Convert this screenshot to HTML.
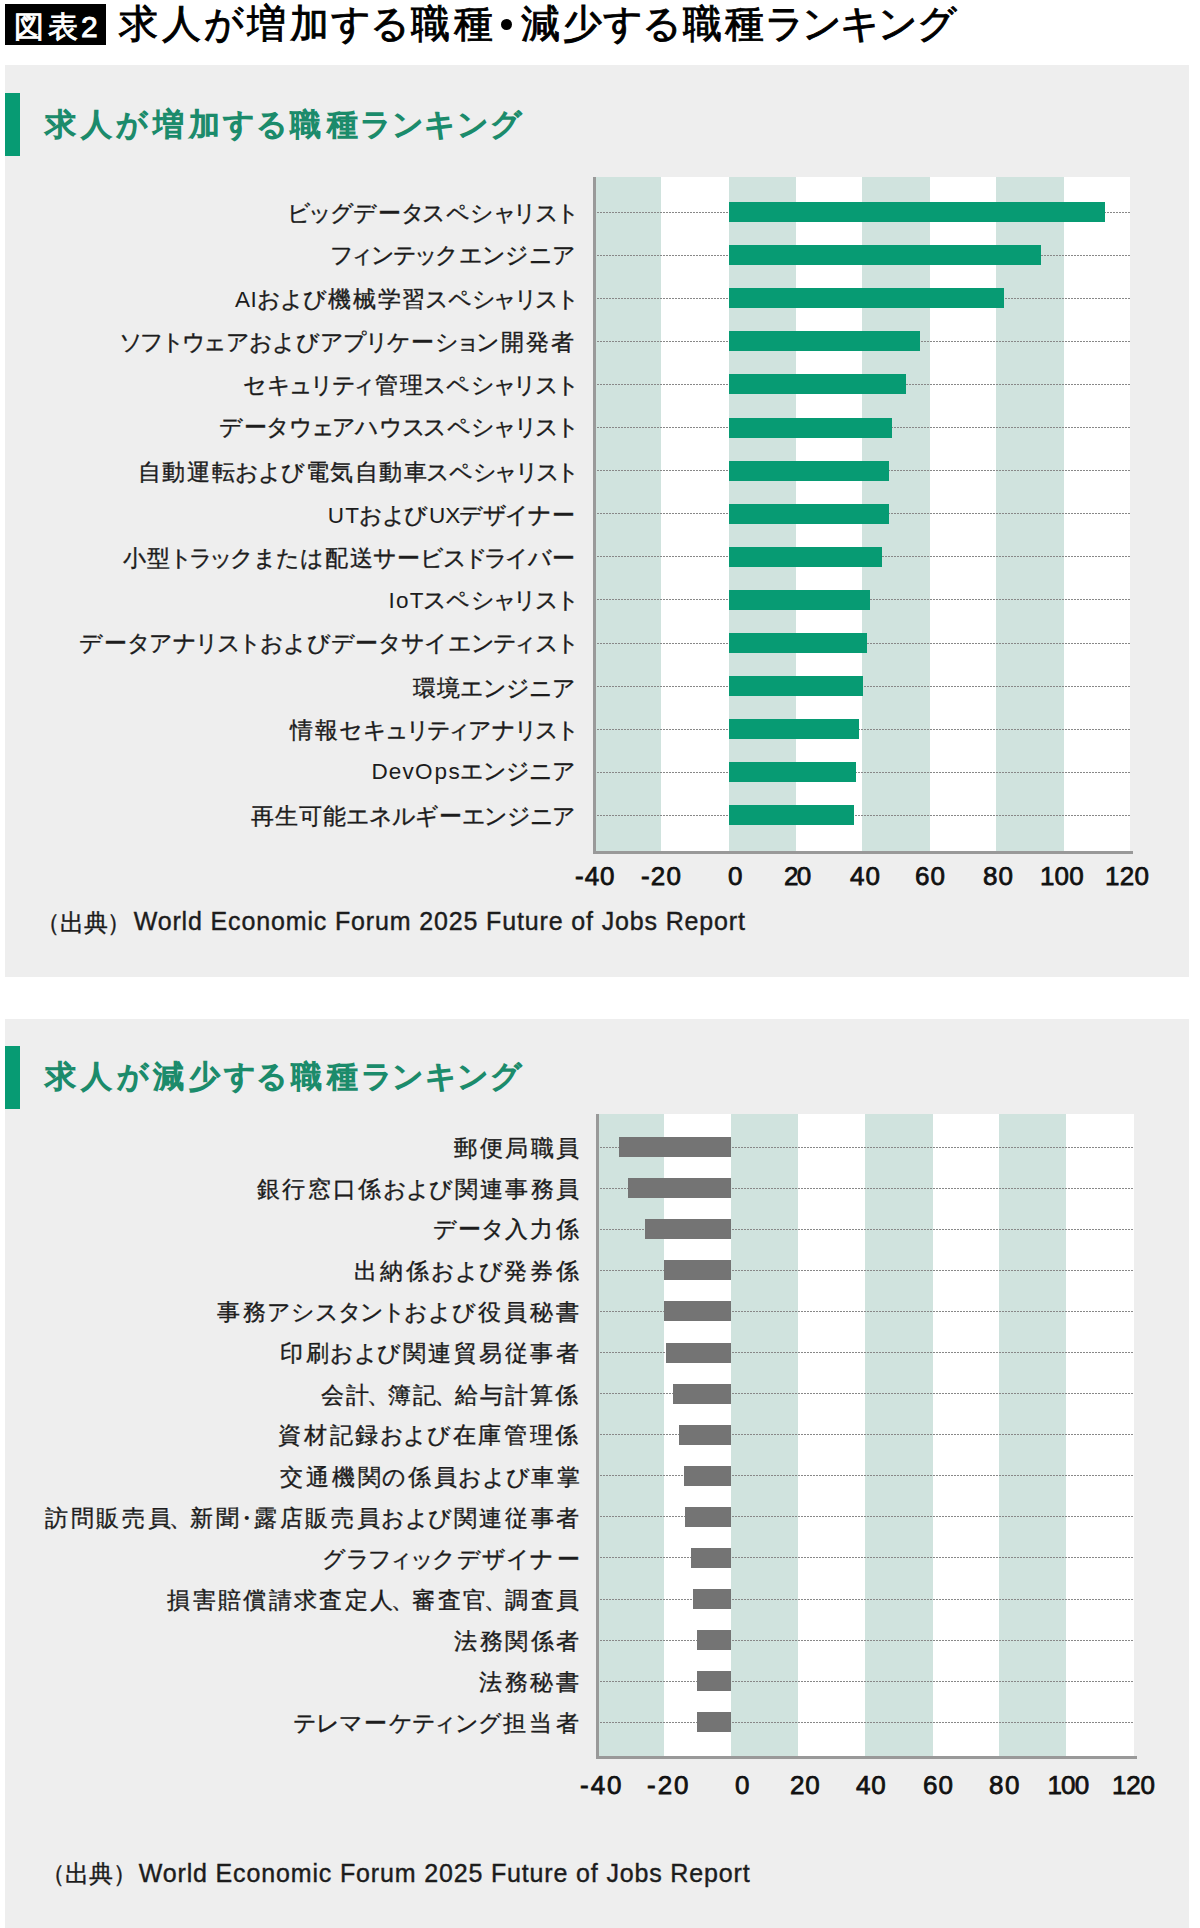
<!DOCTYPE html><html lang="ja"><head><meta charset="utf-8"><title>求人が増加する職種・減少する職種ランキング</title><style>
html,body{margin:0;padding:0;background:#fff;width:1200px;height:1928px;overflow:hidden;font-family:"Liberation Sans",sans-serif}
.abs{position:absolute;white-space:nowrap;line-height:1}
.lab{color:#1c1c1c;-webkit-text-stroke:0.35px #1c1c1c}
.lab .lt{-webkit-text-stroke:0}
.src{color:#1c1c1c;-webkit-text-stroke:0.4px #1c1c1c}
.dot{height:1px;background:repeating-linear-gradient(90deg,#888888 0 2px,transparent 2px 3px)}
.num{color:#111;-webkit-text-stroke:0.75px #111}
</style></head><body>
<div class="abs" style="left:5px;top:4px;width:101px;height:41px;background:#000"></div>
<div class="abs " id="hdrbox" style="left:11.40px;top:11.50px;font-size:30px;color:#fff;-webkit-text-stroke:0.9px #fff;"><span style="margin:0 2.11px">図</span><span style="margin:0 2.11px">表</span><span class="lt" style="margin:0 1.15px">2</span></div>
<div class="abs " id="hdrA" style="left:116.50px;top:4.00px;font-size:39px;color:#000;-webkit-text-stroke:0.9px #000;"><span style="margin:0 2.07px">求</span><span style="margin:0 2.07px">人</span><span style="margin:0 1.12px">が</span><span style="margin:0 2.07px">増</span><span style="margin:0 2.07px">加</span><span style="margin:0 -0.48px">す</span><span style="margin:0 -0.67px">る</span><span style="margin:0 2.07px">職</span><span style="margin:0 2.07px">種</span></div>
<div class="abs " id="hdrB" style="left:519.00px;top:3.50px;font-size:39px;color:#000;-webkit-text-stroke:0.9px #000;"><span style="margin:0 1.81px">減</span><span style="margin:0 1.81px">少</span><span style="margin:0 -0.72px">す</span><span style="margin:0 -0.90px">る</span><span style="margin:0 1.81px">職</span><span style="margin:0 1.81px">種</span><span style="margin:0 -1.57px">ラ</span><span style="margin:0 -1.08px">ン</span><span style="margin:0 -0.67px">キ</span><span style="margin:0 -1.08px">ン</span><span style="margin:0 -0.70px">グ</span></div>
<div class="abs" style="left:501px;top:18.5px;width:11px;height:11px;border-radius:50%;background:#000"></div>
<div class="abs" style="left:5px;top:65px;width:1184px;height:912px;background:#eeeeee"></div>
<div class="abs" style="left:5px;top:1019px;width:1184px;height:909px;background:#eeeeee"></div>
<div class="abs" style="left:5px;top:93px;width:15px;height:63px;background:#079b73"></div>
<div class="abs" style="left:5px;top:1046px;width:15px;height:63px;background:#079b73"></div>
<div class="abs " id="t1" style="left:42.00px;top:109.25px;font-size:31px;color:#1b8b6b;-webkit-text-stroke:1.5px #1b8b6b;"><span style="margin:0 2.64px">求</span><span style="margin:0 2.64px">人</span><span style="margin:0 1.76px">が</span><span style="margin:0 2.64px">増</span><span style="margin:0 2.64px">加</span><span style="margin:0 0.42px">す</span><span style="margin:0 0.26px">る</span><span style="margin:0 2.64px">職</span><span style="margin:0 2.64px">種</span><span style="margin:0 -0.30px">ラ</span><span style="margin:0 0.11px">ン</span><span style="margin:0 0.46px">キ</span><span style="margin:0 0.11px">ン</span><span style="margin:0 0.44px">グ</span></div>
<div class="abs " id="t2" style="left:42.60px;top:1061.25px;font-size:31px;color:#1b8b6b;-webkit-text-stroke:1.5px #1b8b6b;"><span style="margin:0 2.63px">求</span><span style="margin:0 2.63px">人</span><span style="margin:0 1.75px">が</span><span style="margin:0 2.63px">減</span><span style="margin:0 2.63px">少</span><span style="margin:0 0.41px">す</span><span style="margin:0 0.24px">る</span><span style="margin:0 2.63px">職</span><span style="margin:0 2.63px">種</span><span style="margin:0 -0.32px">ラ</span><span style="margin:0 0.10px">ン</span><span style="margin:0 0.44px">キ</span><span style="margin:0 0.10px">ン</span><span style="margin:0 0.42px">グ</span></div>
<div class="abs" style="left:594px;top:176.5px;width:535.5999999999999px;height:674.5px;background:#fff"></div>
<div class="abs" style="left:596.0px;top:176.5px;width:64.8px;height:674.5px;background:#d0e3de"></div>
<div class="abs" style="left:728.8px;top:176.5px;width:67.5px;height:674.5px;background:#d0e3de"></div>
<div class="abs" style="left:861.7px;top:176.5px;width:67.9px;height:674.5px;background:#d0e3de"></div>
<div class="abs" style="left:996.2px;top:176.5px;width:67.5px;height:674.5px;background:#d0e3de"></div>
<div class="abs dot" style="left:597px;top:211.5px;width:532.5999999999999px"></div>
<div class="abs dot" style="left:597px;top:254.6px;width:532.5999999999999px"></div>
<div class="abs dot" style="left:597px;top:297.7px;width:532.5999999999999px"></div>
<div class="abs dot" style="left:597px;top:340.8px;width:532.5999999999999px"></div>
<div class="abs dot" style="left:597px;top:383.9px;width:532.5999999999999px"></div>
<div class="abs dot" style="left:597px;top:427.0px;width:532.5999999999999px"></div>
<div class="abs dot" style="left:597px;top:470.1px;width:532.5999999999999px"></div>
<div class="abs dot" style="left:597px;top:513.2px;width:532.5999999999999px"></div>
<div class="abs dot" style="left:597px;top:556.3px;width:532.5999999999999px"></div>
<div class="abs dot" style="left:597px;top:599.4px;width:532.5999999999999px"></div>
<div class="abs dot" style="left:597px;top:642.5px;width:532.5999999999999px"></div>
<div class="abs dot" style="left:597px;top:685.6px;width:532.5999999999999px"></div>
<div class="abs dot" style="left:597px;top:728.7px;width:532.5999999999999px"></div>
<div class="abs dot" style="left:597px;top:771.8px;width:532.5999999999999px"></div>
<div class="abs dot" style="left:597px;top:814.9px;width:532.5999999999999px"></div>
<div class="abs" style="left:728.6px;top:202.0px;width:376.7px;height:20px;background:#079b73"></div>
<div class="abs" style="left:728.6px;top:245.1px;width:312.2px;height:20px;background:#079b73"></div>
<div class="abs" style="left:728.6px;top:288.2px;width:275.4px;height:20px;background:#079b73"></div>
<div class="abs" style="left:728.6px;top:331.3px;width:191.9px;height:20px;background:#079b73"></div>
<div class="abs" style="left:728.6px;top:374.4px;width:177.3px;height:20px;background:#079b73"></div>
<div class="abs" style="left:728.6px;top:417.5px;width:163.3px;height:20px;background:#079b73"></div>
<div class="abs" style="left:728.6px;top:460.6px;width:160.8px;height:20px;background:#079b73"></div>
<div class="abs" style="left:728.6px;top:503.7px;width:160.1px;height:20px;background:#079b73"></div>
<div class="abs" style="left:728.6px;top:546.8px;width:153.5px;height:20px;background:#079b73"></div>
<div class="abs" style="left:728.6px;top:589.9px;width:141.8px;height:20px;background:#079b73"></div>
<div class="abs" style="left:728.6px;top:633.0px;width:138.4px;height:20px;background:#079b73"></div>
<div class="abs" style="left:728.6px;top:676.1px;width:134.3px;height:20px;background:#079b73"></div>
<div class="abs" style="left:728.6px;top:719.2px;width:130.6px;height:20px;background:#079b73"></div>
<div class="abs" style="left:728.6px;top:762.3px;width:127.4px;height:20px;background:#079b73"></div>
<div class="abs" style="left:728.6px;top:805.4px;width:125.4px;height:20px;background:#079b73"></div>
<div class="abs" style="left:593px;top:176.5px;width:3px;height:677.5px;background:#999999"></div>
<div class="abs" style="left:593px;top:851px;width:540px;height:3px;background:#999999"></div>
<div class="abs lab" id="a0" style="left:287.00px;top:202.50px;font-size:22.5px;"><span style="margin:0 -0.39px">ビ</span><span style="margin:0 -2.04px">ッ</span><span style="margin:0 -0.53px">グ</span><span style="margin:0 -0.15px">デ</span><span style="margin:0 0.97px">ー</span><span style="margin:0 -0.94px">タ</span><span style="margin:0 -1.51px">ス</span><span style="margin:0 0.88px">ペ</span><span style="margin:0 -0.28px">シ</span><span style="margin:0 -1.66px">ャ</span><span style="margin:0 -1.63px">リ</span><span style="margin:0 -0.62px">ス</span><span style="margin:0 -2.25px">ト</span></div>
<div class="abs lab" id="a1" style="left:332.00px;top:245.00px;font-size:22.5px;"><span style="margin:0 -1.83px">フ</span><span style="margin:0 -2.35px">ィ</span><span style="margin:0 -0.90px">ン</span><span style="margin:0 -0.66px">テ</span><span style="margin:0 -2.17px">ッ</span><span style="margin:0 -0.78px">ク</span><span style="margin:0 -0.00px">エ</span><span style="margin:0 -0.90px">ン</span><span style="margin:0 0.22px">ジ</span><span style="margin:0 -0.47px">ニ</span><span style="margin:0 -0.37px">ア</span></div>
<div class="abs lab" id="a2" style="left:235.00px;top:288.50px;font-size:22.5px;"><span class="lt" style="margin:0 0.05px">A</span><span class="lt" style="margin:0 0.51px">I</span><span style="margin:0 -0.08px">お</span><span style="margin:0 -1.15px">よ</span><span style="margin:0 -0.01px">び</span><span style="margin:0 0.93px">機</span><span style="margin:0 0.93px">械</span><span style="margin:0 0.93px">学</span><span style="margin:0 0.93px">習</span><span style="margin:0 -1.70px">ス</span><span style="margin:0 0.65px">ペ</span><span style="margin:0 -0.49px">シ</span><span style="margin:0 -1.85px">ャ</span><span style="margin:0 -1.82px">リ</span><span style="margin:0 -0.83px">ス</span><span style="margin:0 -2.43px">ト</span></div>
<div class="abs lab" id="a3" style="left:121.00px;top:332.00px;font-size:22.5px;"><span style="margin:0 -1.58px">ソ</span><span style="margin:0 -1.48px">フ</span><span style="margin:0 -2.29px">ト</span><span style="margin:0 -0.64px">ウ</span><span style="margin:0 -1.66px">ェ</span><span style="margin:0 -0.26px">ア</span><span style="margin:0 0.09px">お</span><span style="margin:0 -0.99px">よ</span><span style="margin:0 0.17px">び</span><span style="margin:0 -0.26px">ア</span><span style="margin:0 -0.40px">プ</span><span style="margin:0 -1.67px">リ</span><span style="margin:0 -0.20px">ケ</span><span style="margin:0 0.67px">ー</span><span style="margin:0 -0.32px">シ</span><span style="margin:0 -2.64px">ョ</span><span style="margin:0 -0.80px">ン</span><span style="margin:0 1.11px">開</span><span style="margin:0 1.11px">発</span><span style="margin:0 1.11px">者</span></div>
<div class="abs lab" id="a4" style="left:243.00px;top:375.00px;font-size:22.5px;"><span style="margin:0 0.03px">セ</span><span style="margin:0 -0.16px">キ</span><span style="margin:0 -1.33px">ュ</span><span style="margin:0 -1.65px">リ</span><span style="margin:0 -1.29px">テ</span><span style="margin:0 -2.25px">ィ</span><span style="margin:0 1.13px">管</span><span style="margin:0 1.13px">理</span><span style="margin:0 -1.53px">ス</span><span style="margin:0 0.86px">ペ</span><span style="margin:0 -0.30px">シ</span><span style="margin:0 -1.68px">ャ</span><span style="margin:0 -1.66px">リ</span><span style="margin:0 -0.64px">ス</span><span style="margin:0 -2.27px">ト</span></div>
<div class="abs lab" id="a5" style="left:219.00px;top:416.50px;font-size:22.5px;"><span style="margin:0 -0.21px">デ</span><span style="margin:0 0.91px">ー</span><span style="margin:0 -0.99px">タ</span><span style="margin:0 -0.65px">ウ</span><span style="margin:0 -1.67px">ェ</span><span style="margin:0 -0.78px">ア</span><span style="margin:0 0.09px">ハ</span><span style="margin:0 -0.65px">ウ</span><span style="margin:0 -0.68px">ス</span><span style="margin:0 -1.56px">ス</span><span style="margin:0 0.82px">ペ</span><span style="margin:0 -0.33px">シ</span><span style="margin:0 -1.71px">ャ</span><span style="margin:0 -1.68px">リ</span><span style="margin:0 -0.68px">ス</span><span style="margin:0 -2.30px">ト</span></div>
<div class="abs lab" id="a6" style="left:137.00px;top:461.50px;font-size:22.5px;"><span style="margin:0 0.83px">自</span><span style="margin:0 0.83px">動</span><span style="margin:0 0.83px">運</span><span style="margin:0 0.83px">転</span><span style="margin:0 -0.17px">お</span><span style="margin:0 -1.23px">よ</span><span style="margin:0 -0.10px">び</span><span style="margin:0 0.83px">電</span><span style="margin:0 0.83px">気</span><span style="margin:0 0.83px">自</span><span style="margin:0 0.83px">動</span><span style="margin:0 0.83px">車</span><span style="margin:0 -1.78px">ス</span><span style="margin:0 0.55px">ペ</span><span style="margin:0 -0.58px">シ</span><span style="margin:0 -1.92px">ャ</span><span style="margin:0 -1.90px">リ</span><span style="margin:0 -0.91px">ス</span><span style="margin:0 -2.50px">ト</span></div>
<div class="abs lab" id="a7" style="left:327.00px;top:504.50px;font-size:22.5px;"><span class="lt" style="margin:0 0.75px">U</span><span class="lt" style="margin:0 0.49px">T</span><span style="margin:0 -0.20px">お</span><span style="margin:0 -1.26px">よ</span><span style="margin:0 -0.13px">び</span><span class="lt" style="margin:0 0.61px">U</span><span class="lt" style="margin:0 -0.46px">X</span><span style="margin:0 -0.48px">デ</span><span style="margin:0 -0.19px">ザ</span><span style="margin:0 -1.41px">イ</span><span style="margin:0 -0.25px">ナ</span><span style="margin:0 0.62px">ー</span></div>
<div class="abs lab" id="a8" style="left:122.00px;top:547.50px;font-size:22.5px;"><span style="margin:0 0.84px">小</span><span style="margin:0 0.84px">型</span><span style="margin:0 -2.50px">ト</span><span style="margin:0 -1.33px">ラ</span><span style="margin:0 -2.29px">ッ</span><span style="margin:0 -0.92px">ク</span><span style="margin:0 -0.63px">ま</span><span style="margin:0 -0.23px">た</span><span style="margin:0 0.34px">は</span><span style="margin:0 0.84px">配</span><span style="margin:0 0.84px">送</span><span style="margin:0 -0.37px">サ</span><span style="margin:0 0.65px">ー</span><span style="margin:0 -0.69px">ビ</span><span style="margin:0 -0.91px">ス</span><span style="margin:0 -2.23px">ド</span><span style="margin:0 -1.33px">ラ</span><span style="margin:0 -1.38px">イ</span><span style="margin:0 -0.34px">バ</span><span style="margin:0 0.65px">ー</span></div>
<div class="abs lab" id="a9" style="left:388.00px;top:590.00px;font-size:22.5px;"><span class="lt" style="margin:0 0.57px">I</span><span class="lt" style="margin:0 0.58px">o</span><span class="lt" style="margin:0 0.69px">T</span><span style="margin:0 -1.54px">ス</span><span style="margin:0 0.85px">ペ</span><span style="margin:0 -0.31px">シ</span><span style="margin:0 -1.69px">ャ</span><span style="margin:0 -1.66px">リ</span><span style="margin:0 -0.66px">ス</span><span style="margin:0 -2.28px">ト</span></div>
<div class="abs lab" id="a10" style="left:79.00px;top:632.50px;font-size:22.5px;"><span style="margin:0 -0.16px">デ</span><span style="margin:0 0.96px">ー</span><span style="margin:0 -0.94px">タ</span><span style="margin:0 -0.47px">ア</span><span style="margin:0 0.08px">ナ</span><span style="margin:0 -1.64px">リ</span><span style="margin:0 -0.62px">ス</span><span style="margin:0 -2.26px">ト</span><span style="margin:0 0.13px">お</span><span style="margin:0 -0.95px">よ</span><span style="margin:0 0.21px">び</span><span style="margin:0 -0.16px">デ</span><span style="margin:0 0.96px">ー</span><span style="margin:0 -0.94px">タ</span><span style="margin:0 -0.07px">サ</span><span style="margin:0 -0.98px">イ</span><span style="margin:0 0.15px">エ</span><span style="margin:0 -0.76px">ン</span><span style="margin:0 -1.27px">テ</span><span style="margin:0 -2.23px">ィ</span><span style="margin:0 -0.63px">ス</span><span style="margin:0 -2.26px">ト</span></div>
<div class="abs lab" id="a11" style="left:412.00px;top:677.50px;font-size:22.5px;"><span style="margin:0 0.70px">環</span><span style="margin:0 0.70px">境</span><span style="margin:0 -0.29px">エ</span><span style="margin:0 -1.16px">ン</span><span style="margin:0 -0.07px">ジ</span><span style="margin:0 -0.74px">ニ</span><span style="margin:0 -0.64px">ア</span></div>
<div class="abs lab" id="a12" style="left:289.00px;top:720.00px;font-size:22.5px;"><span style="margin:0 1.03px">情</span><span style="margin:0 1.03px">報</span><span style="margin:0 -0.07px">セ</span><span style="margin:0 -0.26px">キ</span><span style="margin:0 -1.42px">ュ</span><span style="margin:0 -1.74px">リ</span><span style="margin:0 -1.38px">テ</span><span style="margin:0 -2.33px">ィ</span><span style="margin:0 -0.59px">ア</span><span style="margin:0 -0.04px">ナ</span><span style="margin:0 -1.74px">リ</span><span style="margin:0 -0.74px">ス</span><span style="margin:0 -2.35px">ト</span></div>
<div class="abs lab" id="a13" style="left:371.00px;top:761.00px;font-size:22.5px;"><span class="lt" style="margin:0 0.39px">D</span><span class="lt" style="margin:0 0.65px">e</span><span class="lt" style="margin:0 0.82px">v</span><span class="lt" style="margin:0 0.42px">O</span><span class="lt" style="margin:0 1.41px">p</span><span class="lt" style="margin:0 0.16px">s</span><span style="margin:0 -0.13px">エ</span><span style="margin:0 -1.02px">ン</span><span style="margin:0 0.09px">ジ</span><span style="margin:0 -0.59px">ニ</span><span style="margin:0 -0.49px">ア</span></div>
<div class="abs lab" id="a14" style="left:250.00px;top:805.50px;font-size:22.5px;"><span style="margin:0 0.59px">再</span><span style="margin:0 0.59px">生</span><span style="margin:0 0.59px">可</span><span style="margin:0 0.59px">能</span><span style="margin:0 -0.39px">エ</span><span style="margin:0 -0.40px">ネ</span><span style="margin:0 -0.68px">ル</span><span style="margin:0 -0.69px">ギ</span><span style="margin:0 0.41px">ー</span><span style="margin:0 -0.39px">エ</span><span style="margin:0 -1.26px">ン</span><span style="margin:0 -0.18px">ジ</span><span style="margin:0 -0.84px">ニ</span><span style="margin:0 -0.74px">ア</span></div>
<div class="abs" style="left:597px;top:1114px;width:536.75px;height:641.5px;background:#fff"></div>
<div class="abs" style="left:599.0px;top:1114px;width:65.2px;height:641.5px;background:#d0e3de"></div>
<div class="abs" style="left:730.8px;top:1114px;width:67.5px;height:641.5px;background:#d0e3de"></div>
<div class="abs" style="left:865.0px;top:1114px;width:67.5px;height:641.5px;background:#d0e3de"></div>
<div class="abs" style="left:999.2px;top:1114px;width:67.0px;height:641.5px;background:#d0e3de"></div>
<div class="abs dot" style="left:600px;top:1146.5px;width:533.75px"></div>
<div class="abs dot" style="left:600px;top:1187.6px;width:533.75px"></div>
<div class="abs dot" style="left:600px;top:1228.7px;width:533.75px"></div>
<div class="abs dot" style="left:600px;top:1269.8px;width:533.75px"></div>
<div class="abs dot" style="left:600px;top:1310.9px;width:533.75px"></div>
<div class="abs dot" style="left:600px;top:1352.0px;width:533.75px"></div>
<div class="abs dot" style="left:600px;top:1393.0px;width:533.75px"></div>
<div class="abs dot" style="left:600px;top:1434.1px;width:533.75px"></div>
<div class="abs dot" style="left:600px;top:1475.2px;width:533.75px"></div>
<div class="abs dot" style="left:600px;top:1516.3px;width:533.75px"></div>
<div class="abs dot" style="left:600px;top:1557.4px;width:533.75px"></div>
<div class="abs dot" style="left:600px;top:1598.5px;width:533.75px"></div>
<div class="abs dot" style="left:600px;top:1639.6px;width:533.75px"></div>
<div class="abs dot" style="left:600px;top:1680.7px;width:533.75px"></div>
<div class="abs dot" style="left:600px;top:1721.8px;width:533.75px"></div>
<div class="abs" style="left:618.5px;top:1137.0px;width:112.7px;height:20px;background:#747474"></div>
<div class="abs" style="left:627.8px;top:1178.1px;width:103.4px;height:20px;background:#747474"></div>
<div class="abs" style="left:645.0px;top:1219.2px;width:86.2px;height:20px;background:#747474"></div>
<div class="abs" style="left:664.2px;top:1260.3px;width:67.0px;height:20px;background:#747474"></div>
<div class="abs" style="left:664.2px;top:1301.4px;width:67.0px;height:20px;background:#747474"></div>
<div class="abs" style="left:665.8px;top:1342.5px;width:65.4px;height:20px;background:#747474"></div>
<div class="abs" style="left:672.8px;top:1383.5px;width:58.4px;height:20px;background:#747474"></div>
<div class="abs" style="left:679.3px;top:1424.6px;width:51.9px;height:20px;background:#747474"></div>
<div class="abs" style="left:684.0px;top:1465.7px;width:47.2px;height:20px;background:#747474"></div>
<div class="abs" style="left:684.7px;top:1506.8px;width:46.5px;height:20px;background:#747474"></div>
<div class="abs" style="left:690.5px;top:1547.9px;width:40.7px;height:20px;background:#747474"></div>
<div class="abs" style="left:693.3px;top:1589.0px;width:37.9px;height:20px;background:#747474"></div>
<div class="abs" style="left:696.8px;top:1630.1px;width:34.4px;height:20px;background:#747474"></div>
<div class="abs" style="left:696.8px;top:1671.2px;width:34.4px;height:20px;background:#747474"></div>
<div class="abs" style="left:697.4px;top:1712.3px;width:33.8px;height:20px;background:#747474"></div>
<div class="abs" style="left:596px;top:1114px;width:3px;height:644.5px;background:#999999"></div>
<div class="abs" style="left:596px;top:1755.5px;width:541px;height:3px;background:#999999"></div>
<div class="abs lab" id="b0" style="left:453.00px;top:1137.50px;font-size:22.5px;"><span style="margin:0 1.25px">郵</span><span style="margin:0 1.25px">便</span><span style="margin:0 1.25px">局</span><span style="margin:0 1.25px">職</span><span style="margin:0 1.25px">員</span></div>
<div class="abs lab" id="b1" style="left:256.00px;top:1178.90px;font-size:22.5px;"><span style="margin:0 1.17px">銀</span><span style="margin:0 1.17px">行</span><span style="margin:0 1.17px">窓</span><span style="margin:0 1.17px">口</span><span style="margin:0 1.17px">係</span><span style="margin:0 0.15px">お</span><span style="margin:0 -0.94px">よ</span><span style="margin:0 0.22px">び</span><span style="margin:0 1.17px">関</span><span style="margin:0 1.17px">連</span><span style="margin:0 1.17px">事</span><span style="margin:0 1.17px">務</span><span style="margin:0 1.17px">員</span></div>
<div class="abs lab" id="b2" style="left:433.00px;top:1219.30px;font-size:22.5px;"><span style="margin:0 -0.13px">デ</span><span style="margin:0 0.99px">ー</span><span style="margin:0 -0.92px">タ</span><span style="margin:0 1.18px">入</span><span style="margin:0 1.18px">力</span><span style="margin:0 1.18px">係</span></div>
<div class="abs lab" id="b3" style="left:353.00px;top:1261.20px;font-size:22.5px;"><span style="margin:0 1.44px">出</span><span style="margin:0 1.44px">納</span><span style="margin:0 1.44px">係</span><span style="margin:0 0.41px">お</span><span style="margin:0 -0.71px">よ</span><span style="margin:0 0.48px">び</span><span style="margin:0 1.44px">発</span><span style="margin:0 1.44px">券</span><span style="margin:0 1.44px">係</span></div>
<div class="abs lab" id="b4" style="left:216.00px;top:1302.10px;font-size:22.5px;"><span style="margin:0 1.46px">事</span><span style="margin:0 1.46px">務</span><span style="margin:0 -0.45px">ア</span><span style="margin:0 -0.00px">シ</span><span style="margin:0 -0.35px">ス</span><span style="margin:0 -0.67px">タ</span><span style="margin:0 -0.49px">ン</span><span style="margin:0 -2.02px">ト</span><span style="margin:0 0.43px">お</span><span style="margin:0 -0.69px">よ</span><span style="margin:0 0.51px">び</span><span style="margin:0 1.46px">役</span><span style="margin:0 1.46px">員</span><span style="margin:0 1.46px">秘</span><span style="margin:0 1.46px">書</span></div>
<div class="abs lab" id="b5" style="left:279.00px;top:1343.00px;font-size:22.5px;"><span style="margin:0 1.26px">印</span><span style="margin:0 1.26px">刷</span><span style="margin:0 0.24px">お</span><span style="margin:0 -0.86px">よ</span><span style="margin:0 0.31px">び</span><span style="margin:0 1.26px">関</span><span style="margin:0 1.26px">連</span><span style="margin:0 1.26px">貿</span><span style="margin:0 1.26px">易</span><span style="margin:0 1.26px">従</span><span style="margin:0 1.26px">事</span><span style="margin:0 1.26px">者</span></div>
<div class="abs lab" id="b6" style="left:320.00px;top:1384.90px;font-size:22.5px;"><span style="margin:0 1.07px">会</span><span style="margin:0 1.07px">計</span><span style="margin:0 -3.21px">、</span><span style="margin:0 1.07px">簿</span><span style="margin:0 1.07px">記</span><span style="margin:0 -3.21px">、</span><span style="margin:0 1.07px">給</span><span style="margin:0 1.07px">与</span><span style="margin:0 1.07px">計</span><span style="margin:0 1.07px">算</span><span style="margin:0 1.07px">係</span></div>
<div class="abs lab" id="b7" style="left:277.00px;top:1425.30px;font-size:22.5px;"><span style="margin:0 1.33px">資</span><span style="margin:0 1.33px">材</span><span style="margin:0 1.33px">記</span><span style="margin:0 1.33px">録</span><span style="margin:0 0.30px">お</span><span style="margin:0 -0.80px">よ</span><span style="margin:0 0.38px">び</span><span style="margin:0 1.33px">在</span><span style="margin:0 1.33px">庫</span><span style="margin:0 1.33px">管</span><span style="margin:0 1.33px">理</span><span style="margin:0 1.33px">係</span></div>
<div class="abs lab" id="b8" style="left:279.00px;top:1467.20px;font-size:22.5px;"><span style="margin:0 1.37px">交</span><span style="margin:0 1.37px">通</span><span style="margin:0 1.37px">機</span><span style="margin:0 1.37px">関</span><span style="margin:0 0.40px">の</span><span style="margin:0 1.37px">係</span><span style="margin:0 1.37px">員</span><span style="margin:0 0.34px">お</span><span style="margin:0 -0.77px">よ</span><span style="margin:0 0.42px">び</span><span style="margin:0 1.37px">車</span><span style="margin:0 1.37px">掌</span></div>
<div class="abs lab" id="b9" style="left:44.00px;top:1508.10px;font-size:22.5px;"><span style="margin:0 1.30px">訪</span><span style="margin:0 1.30px">問</span><span style="margin:0 1.30px">販</span><span style="margin:0 1.30px">売</span><span style="margin:0 1.30px">員</span><span style="margin:0 -3.05px">、</span><span style="margin:0 1.30px">新</span><span style="margin:0 1.30px">聞</span><span style="margin:0 -5.10px">・</span><span style="margin:0 1.30px">露</span><span style="margin:0 1.30px">店</span><span style="margin:0 1.30px">販</span><span style="margin:0 1.30px">売</span><span style="margin:0 1.30px">員</span><span style="margin:0 0.28px">お</span><span style="margin:0 -0.82px">よ</span><span style="margin:0 0.35px">び</span><span style="margin:0 1.30px">関</span><span style="margin:0 1.30px">連</span><span style="margin:0 1.30px">従</span><span style="margin:0 1.30px">事</span><span style="margin:0 1.30px">者</span></div>
<div class="abs lab" id="b10" style="left:322.00px;top:1548.50px;font-size:22.5px;"><span style="margin:0 0.06px">グ</span><span style="margin:0 -0.49px">ラ</span><span style="margin:0 -1.17px">フ</span><span style="margin:0 -1.72px">ィ</span><span style="margin:0 -1.52px">ッ</span><span style="margin:0 -0.05px">ク</span><span style="margin:0 0.46px">デ</span><span style="margin:0 0.78px">ザ</span><span style="margin:0 -0.54px">イ</span><span style="margin:0 0.71px">ナ</span><span style="margin:0 1.61px">ー</span></div>
<div class="abs lab" id="b11" style="left:166.00px;top:1589.90px;font-size:22.5px;"><span style="margin:0 1.20px">損</span><span style="margin:0 1.20px">害</span><span style="margin:0 1.20px">賠</span><span style="margin:0 1.20px">償</span><span style="margin:0 1.20px">請</span><span style="margin:0 1.20px">求</span><span style="margin:0 1.20px">査</span><span style="margin:0 1.20px">定</span><span style="margin:0 1.20px">人</span><span style="margin:0 -3.12px">、</span><span style="margin:0 1.20px">審</span><span style="margin:0 1.20px">査</span><span style="margin:0 1.20px">官</span><span style="margin:0 -3.12px">、</span><span style="margin:0 1.20px">調</span><span style="margin:0 1.20px">査</span><span style="margin:0 1.20px">員</span></div>
<div class="abs lab" id="b12" style="left:453.00px;top:1630.80px;font-size:22.5px;"><span style="margin:0 1.25px">法</span><span style="margin:0 1.25px">務</span><span style="margin:0 1.25px">関</span><span style="margin:0 1.25px">係</span><span style="margin:0 1.25px">者</span></div>
<div class="abs lab" id="b13" style="left:478.00px;top:1671.70px;font-size:22.5px;"><span style="margin:0 1.29px">法</span><span style="margin:0 1.29px">務</span><span style="margin:0 1.29px">秘</span><span style="margin:0 1.29px">書</span></div>
<div class="abs lab" id="b14" style="left:293.00px;top:1713.10px;font-size:22.5px;"><span style="margin:0 -0.15px">テ</span><span style="margin:0 -0.51px">レ</span><span style="margin:0 -0.32px">マ</span><span style="margin:0 1.35px">ー</span><span style="margin:0 -0.05px">ケ</span><span style="margin:0 -0.94px">テ</span><span style="margin:0 -1.93px">ィ</span><span style="margin:0 -0.41px">ン</span><span style="margin:0 -0.18px">グ</span><span style="margin:0 1.55px">担</span><span style="margin:0 1.55px">当</span><span style="margin:0 1.55px">者</span></div>
<div class="abs num" id="na0" style="left:575.00px;top:863.00px;font-size:26px;letter-spacing:1.000px;">-40</div>
<div class="abs num" id="nb0" style="left:580.00px;top:1772.00px;font-size:26px;letter-spacing:2.000px;">-40</div>
<div class="abs num" id="na1" style="left:641.00px;top:863.00px;font-size:26px;letter-spacing:1.150px;">-20</div>
<div class="abs num" id="nb1" style="left:647.00px;top:1772.00px;font-size:26px;letter-spacing:2.000px;">-20</div>
<div class="abs num" id="na2" style="left:728.00px;top:863.00px;font-size:26px;letter-spacing:0.000px;">0</div>
<div class="abs num" id="nb2" style="left:735.00px;top:1772.00px;font-size:26px;letter-spacing:0.000px;">0</div>
<div class="abs num" id="na3" style="left:784.00px;top:863.00px;font-size:26px;letter-spacing:-1.600px;">20</div>
<div class="abs num" id="nb3" style="left:790.00px;top:1772.00px;font-size:26px;letter-spacing:0.700px;">20</div>
<div class="abs num" id="na4" style="left:850.00px;top:863.00px;font-size:26px;letter-spacing:1.000px;">40</div>
<div class="abs num" id="nb4" style="left:856.00px;top:1772.00px;font-size:26px;letter-spacing:0.700px;">40</div>
<div class="abs num" id="na5" style="left:915.00px;top:863.00px;font-size:26px;letter-spacing:1.000px;">60</div>
<div class="abs num" id="nb5" style="left:923.00px;top:1772.00px;font-size:26px;letter-spacing:1.000px;">60</div>
<div class="abs num" id="na6" style="left:983.00px;top:863.00px;font-size:26px;letter-spacing:1.000px;">80</div>
<div class="abs num" id="nb6" style="left:989.00px;top:1772.00px;font-size:26px;letter-spacing:1.600px;">80</div>
<div class="abs num" id="na7" style="left:1040.00px;top:863.00px;font-size:26px;letter-spacing:0.150px;">100</div>
<div class="abs num" id="nb7" style="left:1047.50px;top:1772.00px;font-size:26px;letter-spacing:-0.875px;">100</div>
<div class="abs num" id="na8" style="left:1105.00px;top:863.00px;font-size:26px;letter-spacing:0.350px;">120</div>
<div class="abs num" id="nb8" style="left:1112.00px;top:1772.00px;font-size:26px;letter-spacing:-0.250px;">120</div>
<div class="abs lab" id="s1j" style="left:36.30px;top:910.85px;font-size:24px;letter-spacing:-0.333px;">（出典）</div>
<div class="abs src" id="s1e" style="left:133.70px;top:909.30px;font-size:25px;letter-spacing:0.854px;">World Economic Forum 2025 Future of Jobs Report</div>
<div class="abs lab" id="s2j" style="left:41.30px;top:1862.35px;font-size:24px;letter-spacing:-0.167px;">（出典）</div>
<div class="abs src" id="s2e" style="left:138.75px;top:1860.80px;font-size:25px;letter-spacing:0.845px;">World Economic Forum 2025 Future of Jobs Report</div>
</body></html>
